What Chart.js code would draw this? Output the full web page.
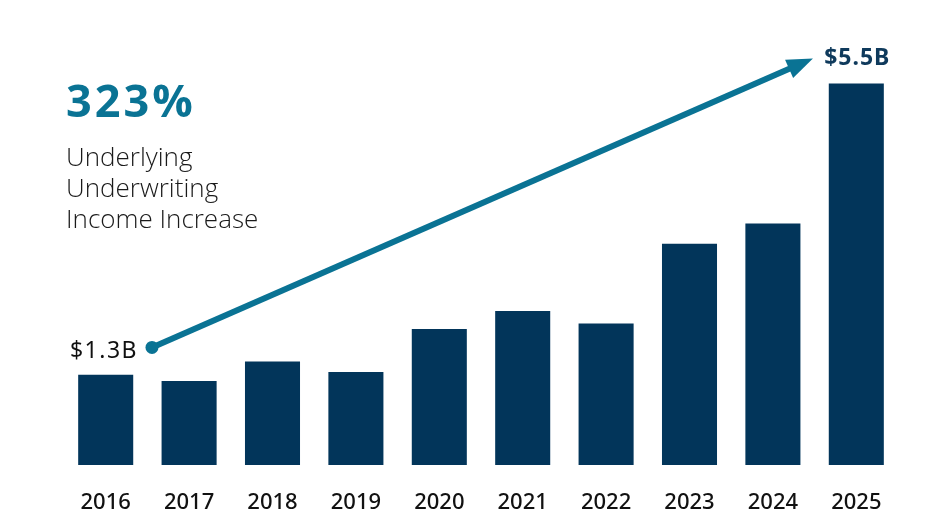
<!DOCTYPE html>
<html>
<head>
<meta charset="utf-8">
<script src="https://cdn.jsdelivr.net/npm/chart.js@4.4.1/dist/chart.umd.min.js"></script>
<style>
  html, body { margin: 0; padding: 0; background: #fff; }
  #wrap { width: 937px; height: 525px; }
</style>
</head>
<body>
<div id="wrap"><canvas id="incomeChart"></canvas></div>
<script>
const years = ["2016", "2017", "2018", "2019", "2020", "2021", "2022", "2023", "2024", "2025"];
const income = [1.3, 1.21, 1.49, 1.34, 1.96, 2.22, 2.04, 3.19, 3.48, 5.5];
const startLabel = "$1.3B";
const endLabel = "$5.5B";
const headline = "323%";
const caption = ["Underlying", "Underwriting", "Income Increase"];
// arrow runs from just right of the first bar to just left of the last one
const arrowStart = { x: 0.555, y: 1.695 };
const arrowEnd = { x: 8.48, y: 5.86 };

const navy = "#02355a";
const teal = "#0a7394";

const growthArrow = {
  id: "growthArrow",
  afterDatasetsDraw(chart) {
    const ctx = chart.ctx;
    const xs = chart.scales.x;
    const ys = chart.scales.y;
    const x0 = xs.getPixelForValue(arrowStart.x);
    const y0 = ys.getPixelForValue(arrowStart.y);
    const x1 = xs.getPixelForValue(arrowEnd.x);
    const y1 = ys.getPixelForValue(arrowEnd.y);
    const ang = Math.atan2(y1 - y0, x1 - x0);
    const head = 26;

    ctx.save();
    ctx.strokeStyle = teal;
    ctx.fillStyle = teal;
    ctx.lineWidth = 6;
    ctx.beginPath();
    ctx.moveTo(x0, y0);
    ctx.lineTo(x1 - Math.cos(ang) * (head - 4), y1 - Math.sin(ang) * (head - 4));
    ctx.stroke();

    ctx.beginPath();
    ctx.arc(x0, y0, 6.5, 0, Math.PI * 2);
    ctx.fill();

    ctx.beginPath();
    ctx.moveTo(x1, y1);
    ctx.lineTo(x1 - head * Math.cos(ang) + 10 * Math.sin(ang), y1 - head * Math.sin(ang) - 10 * Math.cos(ang));
    ctx.lineTo(x1 - head * Math.cos(ang) - 10 * Math.sin(ang), y1 - head * Math.sin(ang) + 10 * Math.cos(ang));
    ctx.closePath();
    ctx.fill();

    // end point labels
    ctx.textBaseline = "middle";
    ctx.textAlign = "right";
    ctx.fillStyle = "#111";
    ctx.letterSpacing = "1.5px";
    ctx.font = "23px 'Noto Sans'";
    ctx.fillText(startLabel, x0 - 14, y0 + 4);

    ctx.textAlign = "center";
    ctx.fillStyle = "#0f3a5c";
    ctx.letterSpacing = "1px";
    ctx.font = "bold 23px 'Noto Sans'";
    ctx.fillText(endLabel, xs.getPixelForValue(years.length - 1) + 1, y1);

    // headline block
    ctx.textAlign = "left";
    ctx.textBaseline = "alphabetic";
    ctx.fillStyle = teal;
    ctx.letterSpacing = "3px";
    ctx.font = "bold 45px 'Open Sans'";
    ctx.fillText(headline, 66, 117);
    ctx.fillStyle = "#1a1a1a";
    ctx.letterSpacing = "0px";
    ctx.font = "300 26px 'Open Sans'";
    caption.forEach((line, i) => ctx.fillText(line, 66, 166 + i * 31));
    ctx.restore();
  }
};

new Chart(document.getElementById("incomeChart"), {
  type: "bar",
  data: {
    labels: years,
    datasets: [
      {
        label: "Underlying underwriting income",
        data: income,
        backgroundColor: navy,
        borderWidth: 0,
        categoryPercentage: 1,
        barPercentage: 0.66,
      },
    ],
  },
  options: {
    responsive: true,
    maintainAspectRatio: false,
    animation: false,
    layout: { padding: { left: 64, right: 39, top: 14, bottom: 12 } },
    plugins: {
      legend: { display: false },
      tooltip: { enabled: false },
    },
    scales: {
      x: {
        grid: { display: false, drawTicks: false },
        border: { display: false },
        afterFit(scale) { scale.height = 48; },
        ticks: {
          color: "#111",
          padding: 25,
          font: { family: "'Noto Sans'", size: 22, weight: "500" },
        },
      },
      y: {
        display: false,
        min: 0,
        max: 6.5,
      },
    },
  },
  plugins: [growthArrow],
});
</script>
</body>
</html>
